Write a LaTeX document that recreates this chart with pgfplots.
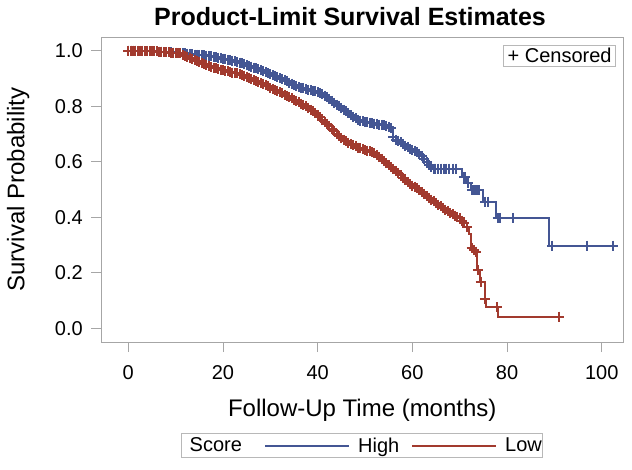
\documentclass[border=0pt]{standalone}
\usepackage{pgfplots}
\usepackage{pgfplotstable}
\pgfplotsset{compat=1.18}
\usepackage{fontspec}
\setmainfont{Liberation Sans}
\definecolor{high}{HTML}{445694}
\definecolor{low}{HTML}{A23A2E}
\definecolor{framec}{RGB}{166,166,166}

\pgfplotstableread{
t s
0 1.000
0.5 1.000
1 1.000
1.5 1.000
2 0.999
2.5 0.999
3 0.999
3.5 0.998
4 0.998
4.5 0.998
5 0.998
5.5 0.997
6 0.997
6.5 0.996
7 0.996
7.5 0.995
8 0.995
8.5 0.994
9 0.994
9.5 0.993
10 0.993
10.5 0.992
11 0.991
11.5 0.990
12 0.990
12.5 0.989
13 0.988
13.5 0.987
14 0.986
14.5 0.986
15 0.985
15.5 0.984
16 0.983
16.5 0.981
17 0.980
17.5 0.979
18 0.977
18.5 0.976
19 0.975
19.5 0.973
20 0.971
20.5 0.969
21 0.967
21.5 0.965
22 0.963
22.5 0.961
23 0.959
23.5 0.957
24 0.954
24.5 0.951
25 0.948
25.5 0.945
26 0.942
26.5 0.939
27 0.936
27.5 0.933
28 0.929
28.5 0.926
29 0.922
29.5 0.919
30 0.915
30.5 0.912
31 0.908
31.5 0.905
32 0.901
32.5 0.897
33 0.893
33.5 0.889
34 0.885
34.5 0.881
35 0.877
35.5 0.873
36 0.869
36.5 0.866
37 0.864
37.5 0.862
38 0.860
38.5 0.857
39 0.855
39.5 0.853
40 0.851
40.5 0.848
41 0.843
41.5 0.838
42 0.832
42.5 0.826
43 0.819
43.5 0.812
44 0.806
44.5 0.800
45 0.794
45.5 0.788
46 0.781
46.5 0.774
47 0.767
47.5 0.762
48 0.757
48.5 0.752
49 0.748
49.5 0.745
50 0.743
50.5 0.742
51 0.740
51.5 0.739
52 0.737
52.5 0.736
53 0.734
53.5 0.733
54 0.731
54.5 0.729
55 0.726
55.5 0.720
56 0.690
56.5 0.680
57 0.676
57.5 0.670
58 0.664
58.5 0.658
59 0.652
59.5 0.647
60 0.642
60.5 0.640
61 0.635
61.5 0.628
62 0.620
62.5 0.610
63 0.600
63.5 0.590
64 0.580
64.5 0.575
70.5 0.545
71.5 0.525
72.3 0.498
75.0 0.456
77.6 0.398
88.8 0.298
102.3 0.298
}\highdata

\pgfplotstableread{
t s
64.8 0.575
65.4 0.575
66.0 0.575
66.6 0.575
67.2 0.575
67.8 0.575
68.6 0.575
69.3 0.575
70.9 0.545
71.2 0.545
71.7 0.525
72.6 0.498
73.0 0.498
73.3 0.498
73.6 0.498
74.0 0.498
75.4 0.456
75.9 0.456
78.0 0.398
78.5 0.398
81.2 0.398
89.5 0.298
96.8 0.298
102.3 0.298
}\highcens

\pgfplotstableread{
t s
0 1.000
0.5 1.000
1 1.000
1.5 1.000
2 0.999
2.5 0.999
3 0.999
3.5 0.998
4 0.998
4.5 0.998
5 0.998
5.5 0.997
6 0.997
6.5 0.996
7 0.996
7.5 0.995
8 0.995
8.5 0.994
9 0.993
9.5 0.993
10 0.992
10.5 0.991
11 0.990
11.5 0.985
12 0.981
12.5 0.978
13 0.975
13.5 0.970
14 0.966
14.5 0.962
15 0.958
15.5 0.955
16 0.952
16.5 0.948
17 0.945
17.5 0.942
18 0.939
18.5 0.936
19 0.933
19.5 0.931
20 0.929
20.5 0.927
21 0.925
21.5 0.923
22 0.921
22.5 0.920
23 0.918
23.5 0.916
24 0.913
24.5 0.910
25 0.906
25.5 0.902
26 0.898
26.5 0.894
27 0.890
27.5 0.887
28 0.883
28.5 0.879
29 0.875
29.5 0.871
30 0.866
30.5 0.862
31 0.858
31.5 0.854
32 0.850
32.5 0.846
33 0.842
33.5 0.838
34 0.833
34.5 0.829
35 0.824
35.5 0.819
36 0.814
36.5 0.809
37 0.804
37.5 0.799
38 0.794
38.5 0.788
39 0.781
39.5 0.774
40 0.767
40.5 0.760
41 0.752
41.5 0.744
42 0.736
42.5 0.728
43 0.719
43.5 0.710
44 0.701
44.5 0.693
45 0.686
45.5 0.680
46 0.674
46.5 0.668
47 0.663
47.5 0.659
48 0.655
48.5 0.651
49 0.648
49.5 0.645
50 0.642
50.5 0.640
51 0.637
51.5 0.634
52 0.630
52.5 0.624
53 0.617
53.5 0.610
54 0.602
54.5 0.594
55 0.587
55.5 0.580
56 0.574
56.5 0.567
57 0.559
57.5 0.551
58 0.543
58.5 0.535
59 0.527
59.5 0.520
60 0.514
60.5 0.510
61 0.505
61.5 0.498
62 0.491
62.5 0.484
63 0.477
63.5 0.470
64 0.464
64.5 0.458
65 0.452
65.5 0.446
66 0.440
66.5 0.434
67 0.428
67.5 0.422
68 0.416
68.5 0.411
69 0.406
69.5 0.401
70 0.396
70.5 0.388
71 0.378
71.5 0.366
72 0.340
72.3 0.290
73.0 0.283
73.6 0.276
73.7 0.210
74.2 0.168
75.3 0.105
75.5 0.077
78.1 0.042
90.9 0.042
}\lowdata

\pgfplotstableread{
t s
72.5 0.290
73.0 0.283
73.4 0.276
73.9 0.210
74.4 0.168
75.3 0.105
77.8 0.077
90.9 0.042
}\lowcens

\begin{document}
\begin{tikzpicture}
\useasboundingbox (-101.5pt,-127pt) rectangle (530.5pt,342pt);
\begin{axis}[
  at={(0pt,0pt)}, anchor=south west,
  scale only axis, width=521.5pt, height=305pt,
  xmin=-5.66, xmax=104.5, ymin=-0.049, ymax=1.049,
  axis line style={framec, line width=0.9pt},
  xtick={0,20,40,60,80,100},
  ytick={0,0.2,0.4,0.6,0.8,1},
  tick align=outside, tick pos=left,
  major tick length=10pt,
  every tick/.style={framec, line width=0.9pt},
  /pgf/number format/assume math mode=true,
  tick label style={font=\fontsize{20}{24}\selectfont, inner sep=0pt},
  xticklabel style={yshift=-13pt},
  yticklabel style={xshift=-8.5pt, /pgf/number format/.cd, fixed, fixed zerofill, precision=1},
  legend style={at={(0.5,-0.2993)}, anchor=north, legend columns=-1,
    draw=framec!80, line width=0.8pt, font=\fontsize{20}{24}\selectfont,
    inner xsep=0pt, inner ysep=3pt,
    nodes={inner xsep=1pt, inner ysep=1pt},
    /tikz/every odd column/.append style={column sep=7pt},
    /tikz/every even column/.append style={column sep=11pt}},
  clip=false,
]
\addplot[high, line width=2pt, const plot, forget plot] table {\highdata};
\addplot[low, line width=2pt, const plot, forget plot] table {\lowdata};
\addplot[high, only marks, mark=+, mark size=5pt, mark options={high, line width=2pt}, restrict x to domain=0:64.5, forget plot] table {\highdata};
\addplot[high, only marks, mark=+, mark size=5pt, mark options={high, line width=2pt}, forget plot] table {\highcens};
\addplot[low, only marks, mark=+, mark size=5pt, mark options={low, line width=2pt}, restrict x to domain=0:71.5, forget plot] table {\lowdata};
\addplot[low, only marks, mark=+, mark size=5pt, mark options={low, line width=2pt}, forget plot] table {\lowcens};

\addlegendimage{empty legend}
\addlegendentry{Score}
\addlegendimage{legend image code/.code={\path (-11pt,0pt); \draw[draw=high, line width=1.8pt] (0pt,0pt) -- (84pt,0pt);}}
\addlegendentry{High}
\addlegendimage{legend image code/.code={\draw[draw=low, line width=1.8pt] (0pt,0pt) -- (84pt,0pt);}}
\addlegendentry{Low}

\node[font=\bfseries\fontsize{25}{30}\selectfont, anchor=center] at (axis description cs:0.4765,1.0656) {Product-Limit Survival Estimates};
\node[font=\fontsize{24}{28}\selectfont, anchor=center] at (axis description cs:0.5,-0.223) {Follow-Up Time (months)};
\node[font=\fontsize{24}{28}\selectfont, anchor=center, rotate=90] at (axis description cs:-0.160,0.5) {Survival Probability};
\node[font=\fontsize{20}{24}\selectfont, draw=framec!80, line width=0.8pt, anchor=north east, inner xsep=4pt, inner ysep=3pt] at (axis description cs:0.9866,0.9738) {+ Censored};
\end{axis}
\end{tikzpicture}
\end{document}
